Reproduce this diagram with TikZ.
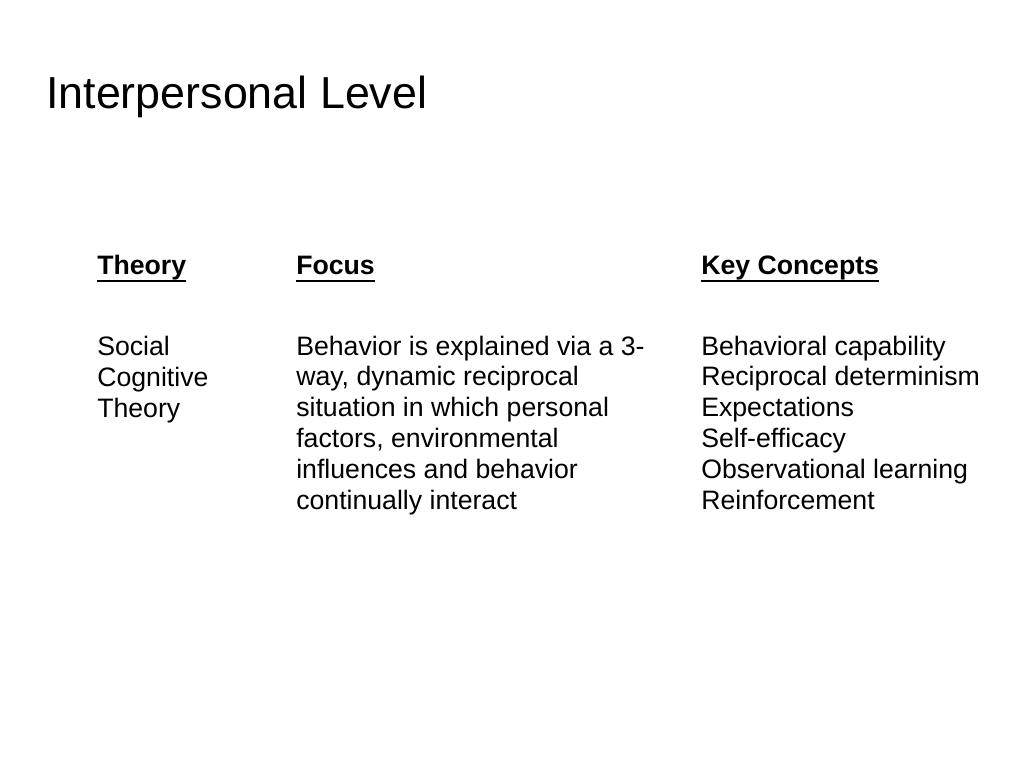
\documentclass[tikz,border=0pt]{standalone}
\usepackage{fontspec}
\setmainfont{Liberation Sans}
\newcommand{\hdline}[1]{\setbox0\hbox{#1}\rlap{\rule[-6pt]{\wd0}{1.4pt}}\box0}
\tikzset{
  title/.style={anchor=base west, inner sep=0pt, font=\fontsize{33.6}{40}\selectfont},
  colhead/.style={anchor=base west, inner sep=0pt, font=\fontsize{20}{23.1}\selectfont\bfseries},
  colbody/.style={anchor=base west, inner sep=0pt, align=left, font=\fontsize{20}{23.1}\selectfont}
}
\begin{document}
\begin{tikzpicture}[x=0.75pt,y=-0.75pt]
\useasboundingbox (0,0) rectangle (1024,768);

\node[title] (title) at (46,108) {Interpersonal Level};

% column heads
\node[colhead] (theory) at (97,274) {\hdline{Theory}};
\node[colhead] (focus) at (296,274) {\hdline{Focus}};
\node[colhead] (keys) at (701,274) {\hdline{Key Concepts}};

% column texts (base = last line)
\node[colbody] (sct) at (97,417) {Social\\Cognitive\\Theory};
\node[colbody] (focustext) at (296,509) {Behavior is explained via a 3-\\way, dynamic reciprocal\\situation in which personal\\factors, environmental\\influences and behavior\\continually interact};
\node[colbody] (concepts) at (701,509) {Behavioral capability\\Reciprocal determinism\\Expectations\\Self-efficacy\\Observational learning\\Reinforcement};
\end{tikzpicture}
\end{document}
